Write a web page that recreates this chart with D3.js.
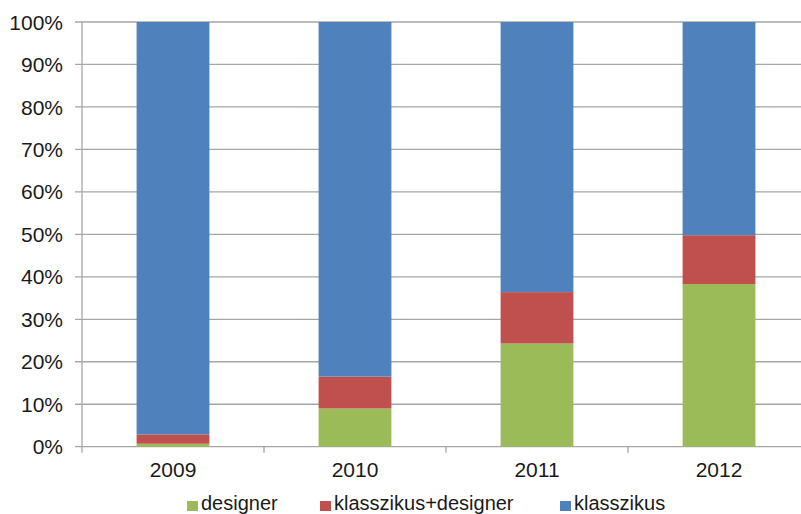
<!DOCTYPE html>
<html><head><meta charset="utf-8">
<script src="https://cdn.jsdelivr.net/npm/d3@7"></script>
<style>body{margin:0;background:#fff}svg{display:block}text{font-family:"Liberation Sans",Arial,sans-serif;fill:#1a1a1a}</style>
</head><body><svg id="c" width="801" height="514"></svg>
<script>
const categories = ["2009","2010","2011","2012"];
const designer = [0.7, 9.0, 24.3, 38.3];
const klasszikusDesigner = [2.2, 7.5, 12.1, 11.5];
const klasszikus = [97.1, 83.5, 63.6, 50.2];
const seriesNames = ["designer","klasszikus+designer","klasszikus"];
const colors = ["#9BBB59","#C0504D","#4F81BD"];
const yTicks = [0,10,20,30,40,50,60,70,80,90,100];

const svg = d3.select("#c");
const pLeft = 82, pRight = 810, pTop = 22, pBottom = 446.7;
const x = d3.scaleBand().domain(categories).range([pLeft, pRight]).paddingInner(0.6).paddingOuter(0.3);
const y = d3.scaleLinear().domain([0,100]).range([pBottom, pTop]);

const rows = categories.map((c,i)=>({cat:c, designer:designer[i], "klasszikus+designer":klasszikusDesigner[i], klasszikus:klasszikus[i]}));
const stack = d3.stack().keys(seriesNames)(rows);

// gridlines
svg.append("g").selectAll("line").data(yTicks).join("line")
  .attr("x1", pLeft-7).attr("x2", pRight)
  .attr("y1", d=>y(d)).attr("y2", d=>y(d))
  .attr("stroke", "#a6a6a6").attr("stroke-width", 1.3);

// bars
svg.append("g").selectAll("g").data(stack).join("g")
  .attr("fill", (d,i)=>colors[i])
  .selectAll("rect").data(d=>d).join("rect")
  .attr("x", d=>x(d.data.cat)).attr("width", x.bandwidth())
  .attr("y", d=>y(d[1])).attr("height", d=>y(d[0])-y(d[1]));

// y axis line
svg.append("line").attr("x1", pLeft).attr("x2", pLeft).attr("y1", pTop).attr("y2", pBottom+6)
  .attr("stroke", "#a6a6a6").attr("stroke-width", 1.3);
// x axis separators
svg.append("g").selectAll("line").data(d3.range(1, categories.length+1)).join("line")
  .attr("x1", d=>pLeft + d*(pRight-pLeft)/categories.length).attr("x2", d=>pLeft + d*(pRight-pLeft)/categories.length)
  .attr("y1", pBottom).attr("y2", pBottom+6)
  .attr("stroke", "#a6a6a6").attr("stroke-width", 1.3);

// y labels
svg.append("g").selectAll("text").data(yTicks).join("text")
  .attr("x", 63).attr("y", d=>y(d)).attr("dy", "0.36em")
  .attr("text-anchor", "end").attr("font-size", 21).text(d=>d+"%");

// x labels
svg.append("g").selectAll("text").data(categories).join("text")
  .attr("x", d=>x(d)+x.bandwidth()/2).attr("y", 469).attr("dy","0.36em")
  .attr("text-anchor","middle").attr("font-size", 21).text(d=>d);

// legend
const legX = [187, 320, 560];
const leg = svg.append("g").selectAll("g").data(seriesNames).join("g")
  .attr("transform", (d,i)=>`translate(${legX[i]},502)`);
leg.append("rect").attr("x",0).attr("y",-1).attr("width",11).attr("height",10).attr("fill",(d,i)=>colors[i]);
leg.append("text").attr("x",14).attr("y",7.5).attr("font-size",20).text(d=>d);
</script></body></html>
